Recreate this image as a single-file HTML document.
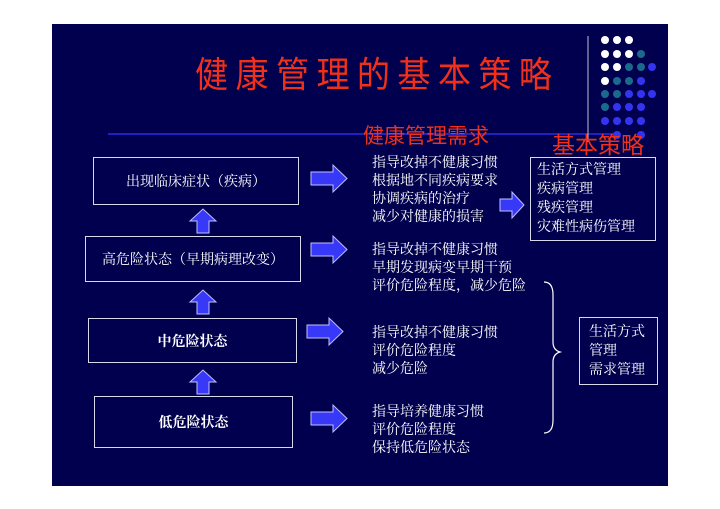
<!DOCTYPE html>
<html><head><meta charset="utf-8"><style>
body{margin:0;width:720px;height:509px;background:#fff;position:relative;overflow:hidden;font-family:"Liberation Serif","Noto Serif CJK SC","Noto Sans CJK SC",serif}
#s{position:absolute;left:52px;top:24px;width:616px;height:462px;background:#00004e}
.t{position:absolute;color:#fff;font-size:14px;line-height:18px;white-space:nowrap}
.b{position:absolute;border:1.5px solid #d8d8e8;box-sizing:border-box;color:#fff;font-size:14px;display:flex;align-items:center;justify-content:center}
.r{position:absolute;color:#f03018;white-space:nowrap}
</style></head><body>
<div id="s"></div>
<svg style="position:absolute;left:0;top:0" width="720" height="509">
<line x1="108" y1="134" x2="620" y2="134" stroke="#2020c0" stroke-width="2"/>
<line x1="588" y1="36" x2="588" y2="142" stroke="#c0c0d0" stroke-width="1"/>
<defs><g id="ra"><polygon points="0,7 22,7 22,0 36,13.5 22,27 22,20 0,20" fill="#3838f8" stroke="#c0c0ff" stroke-width="1"/></g>
<g id="ua"><polygon points="7,20 7,8 0,8 13,-4 26,8 19,8 19,20" fill="#3838f8" stroke="#c0c0ff" stroke-width="1"/></g></defs>
<use href="#ra" x="311" y="165"/>
<use href="#ra" x="311" y="236"/>
<use href="#ra" x="307" y="318"/>
<use href="#ra" x="311" y="405"/>
<polygon points="500,199 512,199 512,192 524,205 512,218 512,211 500,211" fill="#3838f8" stroke="#c0c0ff" stroke-width="1"/>
<use href="#ua" x="190" y="213"/>
<use href="#ua" x="190" y="294"/>
<use href="#ua" x="190" y="374"/>
<path d="M544 282 Q553 282 553 295 L553 342 Q553 350 560 352 Q553 354 553 362 L553 420 Q553 433 544 433" fill="none" stroke="#fff" stroke-width="1.2"/>
<g>
<circle cx="605" cy="40" r="4" fill="#fff"/><circle cx="617" cy="40" r="4" fill="#fff"/><circle cx="629" cy="40" r="4" fill="#fff"/>
<circle cx="605" cy="54" r="4" fill="#fff"/><circle cx="617" cy="54" r="4" fill="#fff"/><circle cx="629" cy="54" r="4" fill="#fff"/><circle cx="641" cy="54" r="4" fill="#1a6a8c"/>
<circle cx="605" cy="67" r="4" fill="#fff"/><circle cx="617" cy="67" r="4" fill="#fff"/><circle cx="629" cy="67" r="4" fill="#1a6a8c"/><circle cx="641" cy="67" r="4" fill="#1a6a8c"/><circle cx="652" cy="67" r="4" fill="#3434f0"/>
<circle cx="605" cy="81" r="4" fill="#fff"/><circle cx="617" cy="81" r="4" fill="#1a6a8c"/><circle cx="629" cy="81" r="4" fill="#1a6a8c"/><circle cx="641" cy="81" r="4" fill="#3434f0"/>
<circle cx="605" cy="94" r="4" fill="#1a6a8c"/><circle cx="617" cy="94" r="4" fill="#1a6a8c"/><circle cx="629" cy="94" r="4" fill="#3434f0"/><circle cx="641" cy="94" r="4" fill="#3434f0"/><circle cx="652" cy="94" r="4" fill="#3434f0"/>
<circle cx="605" cy="107" r="4" fill="#1a6a8c"/><circle cx="617" cy="107" r="4" fill="#3434f0"/><circle cx="629" cy="107" r="4" fill="#3434f0"/><circle cx="641" cy="107" r="4" fill="#3434f0"/>
<circle cx="605" cy="121" r="4" fill="#3434f0"/><circle cx="617" cy="121" r="4" fill="#3434f0"/><circle cx="629" cy="121" r="4" fill="#3434f0"/><circle cx="641" cy="121" r="4" fill="#3434f0"/>
<circle cx="617" cy="135" r="4" fill="#3434f0"/><circle cx="641" cy="135" r="4" fill="#3434f0"/>
</g>
</svg>
<div class="r" style="left:195px;top:52px;font-size:36px;letter-spacing:8px;line-height:46px;font-family:'Liberation Sans','Noto Sans CJK SC',sans-serif;transform:scaleX(0.92);transform-origin:left top">健康管理的基本策略</div>
<div class="r" style="left:363px;top:124px;font-size:21px;line-height:26px;font-family:'Liberation Sans','Noto Sans CJK SC',sans-serif">健康管理需求</div>
<div class="r" style="left:552px;top:131px;font-size:23px;line-height:28px;font-family:'Liberation Sans','Noto Sans CJK SC',sans-serif">基本策略</div>
<div class="b" style="left:93px;top:157px;width:206px;height:48px">出现临床症状（疾病）</div>
<div class="b" style="left:85px;top:236px;width:216px;height:46px">高危险状态（早期病理改变）</div>
<div class="b" style="left:88px;top:318px;width:209px;height:45px;font-weight:bold">中危险状态</div>
<div class="b" style="left:94px;top:396px;width:199px;height:52px;font-weight:bold">低危险状态</div>
<div class="b" style="left:530px;top:157px;width:126px;height:84px;justify-content:flex-start;align-items:flex-start;padding:3px 6px"><div style="line-height:19px">生活方式管理<br>疾病管理<br>残疾管理<br>灾难性病伤管理</div></div>
<div class="b" style="left:579px;top:317px;width:79px;height:68px;justify-content:flex-start;padding-left:9px"><div style="line-height:19px">生活方式<br>管理<br>需求管理</div></div>
<div class="t" style="left:372px;top:155px">指导改掉不健康习惯<br>根据地不同疾病要求<br>协调疾病的治疗<br>减少对健康的损害</div>
<div class="t" style="left:372px;top:242px">指导改掉不健康习惯<br>早期发现病变早期干预<br>评价危险程度，减少危险</div>
<div class="t" style="left:372px;top:325px">指导改掉不健康习惯<br>评价危险程度<br>减少危险</div>
<div class="t" style="left:372px;top:404px">指导培养健康习惯<br>评价危险程度<br>保持低危险状态</div>
</body></html>
